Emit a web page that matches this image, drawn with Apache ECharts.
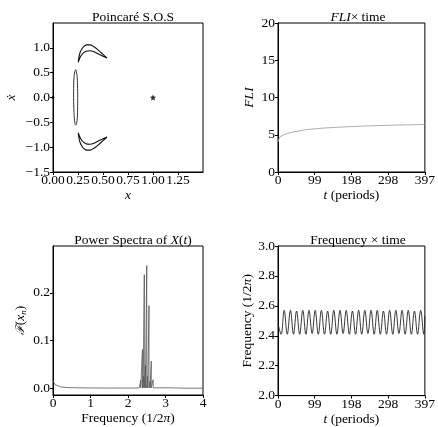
<html>
<head>
<meta charset="utf-8">
<script src="https://cdn.jsdelivr.net/npm/echarts@6/dist/echarts.min.js"></script>
<style>
  body { margin: 0; background: #fff; }
  #main { width: 438px; height: 427px; }
</style>
</head>
<body>
<div id="main"></div>
<script type="text/javascript">
// ---- Poincare S.O.S : points ----
var upX = [0.253, 0.258, 0.27, 0.29, 0.31, 0.337, 0.37, 0.41, 0.45, 0.50, 0.54, 0.50, 0.45, 0.41, 0.37, 0.33, 0.30, 0.28, 0.265, 0.253];
var upY = [0.71, 0.80, 0.90, 0.98, 1.03, 1.06, 1.06, 1.02, 0.96, 0.87, 0.795, 0.83, 0.88, 0.92, 0.94, 0.93, 0.89, 0.84, 0.78, 0.71];
var lowX = [0.253, 0.258, 0.27, 0.29, 0.31, 0.337, 0.37, 0.41, 0.45, 0.50, 0.54, 0.50, 0.45, 0.41, 0.37, 0.33, 0.30, 0.28, 0.265, 0.253];
var lowY = [-0.71, -0.80, -0.90, -0.98, -1.03, -1.06, -1.06, -1.02, -0.96, -0.87, -0.795, -0.83, -0.88, -0.92, -0.94, -0.93, -0.89, -0.84, -0.78, -0.71];
var ellX = [0.228, 0.240, 0.245, 0.247, 0.246, 0.243, 0.236, 0.227, 0.216, 0.210, 0.206, 0.207, 0.211, 0.218, 0.228];
var ellY = [0.56, 0.45, 0.25, 0.0, -0.25, -0.42, -0.52, -0.555, -0.47, -0.3, 0.0, 0.25, 0.42, 0.52, 0.56];
var fixedPts = [[1.0, 0.0]];
var originPts = [[0.0, 0.0]];

// ---- FLI x time ----
var fliT = [0, 2, 5, 10, 15, 20, 30, 40, 60, 80, 100, 130, 160, 200, 250, 300, 350, 397];
var fliV = [4.0, 4.4, 4.7, 4.95, 5.0, 5.05, 5.25, 5.35, 5.55, 5.7, 5.8, 5.92, 6.0, 6.1, 6.2, 6.27, 6.33, 6.38];

// ---- Power spectra (spikes drawn as vertical segments) ----
var specF = [0, 0.02, 0.05, 0.1, 0.2, 0.4, 0.7, 1.0, 1.5, 1.9, 1.95, 1.95, 1.95, 2.0, 2.0, 2.0, 2.05, 2.05, 2.05, 2.2, 2.3,
             2.34, 2.34, 2.34, 2.385, 2.385, 2.385, 2.405, 2.405, 2.405, 2.435, 2.435, 2.435, 2.465, 2.465, 2.465,
             2.50, 2.50, 2.50, 2.525, 2.525, 2.525, 2.56, 2.56, 2.56, 2.59, 2.59, 2.59, 2.62, 2.62, 2.62,
             2.67, 2.67, 2.67, 2.8, 2.9, 2.9, 2.9, 3.1, 3.5, 4.0];
var specP = [0.016, 0.012, 0.008, 0.005, 0.003, 0.0015, 0.001, 0.0007, 0.0005, 0.0005, 0.0005, 0.003, 0.0005, 0.0005, 0.003, 0.0005, 0.0005, 0.002, 0.0005, 0.0005, 0.001,
             0.001, 0.017, 0.001, 0.001, 0.081, 0.001, 0.001, 0.025, 0.001, 0.001, 0.238, 0.001, 0.001, 0.048, 0.001,
             0.001, 0.257, 0.001, 0.001, 0.025, 0.001, 0.001, 0.173, 0.001, 0.001, 0.015, 0.001, 0.001, 0.057, 0.001,
             0.001, 0.018, 0.001, 0.001, 0.001, 0.002, 0.0005, 0.001, 0.0003, 0.0002];

// ---- Frequency x time ----
var freqT = [1, 8.3, 16.7, 25.1, 33.5, 41.9, 50.2, 58.6, 67.0, 75.4, 83.8, 92.2, 100.5, 108.9, 117.3, 125.7, 134.1,
             142.5, 150.8, 159.2, 167.6, 176.0, 184.4, 192.8, 201.2, 209.6, 217.9, 226.3, 234.7, 243.1, 251.5,
             259.9, 268.2, 276.6, 285.0, 293.4, 301.8, 310.2, 318.5, 326.9, 335.3, 343.7, 352.1, 360.5, 368.8,
             377.2, 385.6, 394.0, 397];
var freqV = [2.47, 2.41, 2.57, 2.41, 2.57, 2.41, 2.565, 2.41, 2.57, 2.41, 2.57, 2.415, 2.57, 2.41, 2.57, 2.41, 2.565,
             2.41, 2.57, 2.41, 2.57, 2.415, 2.57, 2.41, 2.565, 2.41, 2.57, 2.41, 2.57, 2.415, 2.57,
             2.41, 2.57, 2.41, 2.565, 2.41, 2.57, 2.41, 2.57, 2.415, 2.57, 2.41, 2.57, 2.41, 2.565,
             2.41, 2.57, 2.41, 2.53];

var tLabels = [0, 99, 198, 298, 397];

function zip(xs, ys) {
  return xs.map(function (x, i) { return [x, ys[i]]; });
}

var FONT = 'Liberation Serif';
var FS = 13.5;
function minus(s) { return String(s).replace('-', '\u2212'); }
var italic = { fontFamily: FONT, fontSize: FS, fontStyle: 'italic', color: '#000' };

function ax(idx, o) {
  var a = {
    type: 'value', gridIndex: idx,
    axisLine: { show: true, onZero: false, lineStyle: { color: '#000', width: 1 } },
    axisTick: { show: true, length: 3, lineStyle: { color: '#000' } },
    axisLabel: { color: '#000', fontFamily: FONT, fontSize: FS, margin: 1.5 },
    splitLine: { show: false },
    nameLocation: 'middle',
    nameTextStyle: { fontFamily: FONT, fontSize: FS, color: '#000', rich: { i: italic } }
  };
  for (var k in o) {
    if (typeof o[k] === 'object' && a[k] && !Array.isArray(o[k])) {
      for (var j in o[k]) a[k][j] = o[k][j];
    } else a[k] = o[k];
  }
  return a;
}

var myChart = echarts.init(document.getElementById('main'));
var grids = [
  { left: 53, top: 23, width: 150, height: 149 },
  { left: 278, top: 23, width: 150, height: 149 },
  { left: 53, top: 246, width: 150, height: 149 },
  { left: 278, top: 246, width: 150, height: 150 }
];
grids.forEach(function (g) { g.show = true; g.borderColor = '#000'; g.borderWidth = 1; g.containLabel = false; });

var titleStyle = { fontFamily: FONT, fontSize: FS, fontWeight: 'normal', color: '#000', rich: { i: italic } };

option = {
  animation: false,
  backgroundColor: '#fff',
  title: [
    { text: 'Poincaré S.O.S', left: 128, top: 5, textAlign: 'center', textStyle: titleStyle },
    { text: '{i|FLI}× time', left: 353, top: 5, textAlign: 'center', textStyle: titleStyle },
    { text: 'Power Spectra of {i|X}({i|t})', left: 128, top: 228, textAlign: 'center', textStyle: titleStyle },
    { text: 'Frequency × time', left: 353, top: 228, textAlign: 'center', textStyle: titleStyle }
  ],
  grid: grids,
  xAxis: [
    ax(0, { min: 0, max: 1.5, interval: 0.25, name: '{i|x}', nameGap: 15,
      axisLabel: { showMaxLabel: false, formatter: function (v) { return v.toFixed(2); } } }),
    ax(1, { min: 0, max: 397, name: '{i|t} (periods)', nameGap: 11,
      axisTick: { customValues: tLabels }, axisLabel: { customValues: tLabels } }),
    ax(2, { min: 0, max: 4, interval: 1, name: 'Frequency (1/2{i|π})', nameGap: 11 }),
    ax(3, { min: 0, max: 397, name: '{i|t} (periods)', nameGap: 11,
      axisTick: { customValues: tLabels }, axisLabel: { customValues: tLabels } })
  ],
  yAxis: [
    ax(0, { min: -1.5, max: 1.5, interval: 0.5, name: '{i|ẋ}', nameGap: 35,
      axisLabel: { margin: 3, showMaxLabel: false, formatter: function (v) { return minus(v.toFixed(1)); } } }),
    ax(1, { min: 0, max: 20, interval: 5, name: '{i|FLI}', nameGap: 22, axisLabel: { margin: 3 } }),
    ax(2, { min: -0.014, max: 0.298, name: '{f|ℱ}({i|x}{s|n})', nameGap: 25,
      nameTextStyle: { fontFamily: FONT, fontSize: FS, color: '#000',
        rich: { f: { fontFamily: 'DejaVu Serif', fontSize: 12, fontStyle: 'italic', color: '#000' }, i: italic,
                s: { fontFamily: FONT, fontSize: 9, fontStyle: 'italic', color: '#000', padding: [6, 0, 0, 0] } } },
      axisTick: { customValues: [0, 0.1, 0.2] },
      axisLabel: { margin: 3, customValues: [0, 0.1, 0.2], formatter: function (v) { return v.toFixed(1); } } }),
    ax(3, { min: 2.0, max: 3.0, interval: 0.2, name: 'Frequency (1/2{i|π})', nameGap: 24,
      axisLabel: { margin: 3, formatter: function (v) { return v.toFixed(1); } } })
  ],
  series: [
    { type: 'line', xAxisIndex: 0, yAxisIndex: 0, data: zip(upX, upY), smooth: 0.4, showSymbol: false,
      lineStyle: { color: '#111', width: 1.1 } },
    { type: 'line', xAxisIndex: 0, yAxisIndex: 0, data: zip(lowX, lowY), smooth: 0.4, showSymbol: false,
      lineStyle: { color: '#111', width: 1.1 } },
    { type: 'line', xAxisIndex: 0, yAxisIndex: 0, data: zip(ellX, ellY), smooth: 0.4, showSymbol: false,
      lineStyle: { color: '#333', width: 1 } },
    { type: 'scatter', xAxisIndex: 0, yAxisIndex: 0, data: fixedPts,
      symbol: 'path://M0,-10L2.9,-4L9.5,-3.1L4.8,1.5L5.9,8.1L0,5L-5.9,8.1L-4.8,1.5L-9.5,-3.1L-2.9,-4Z',
      symbolSize: 6, itemStyle: { color: '#000' } },
    { type: 'scatter', xAxisIndex: 0, yAxisIndex: 0, data: originPts, symbol: 'circle', symbolSize: 3, itemStyle: { color: '#000' } },
    { type: 'line', xAxisIndex: 1, yAxisIndex: 1, data: zip(fliT, fliV), showSymbol: false,
      lineStyle: { color: '#999', width: 0.8 } },
    { type: 'line', xAxisIndex: 2, yAxisIndex: 2, data: zip(specF, specP), showSymbol: false,
      lineStyle: { color: '#555', width: 0.8 } },
    { type: 'line', xAxisIndex: 3, yAxisIndex: 3, data: zip(freqT, freqV), smooth: 0.4, showSymbol: false,
      lineStyle: { color: '#222', width: 0.9 } }
  ]
};
myChart.setOption(option);
</script>
</body>
</html>
